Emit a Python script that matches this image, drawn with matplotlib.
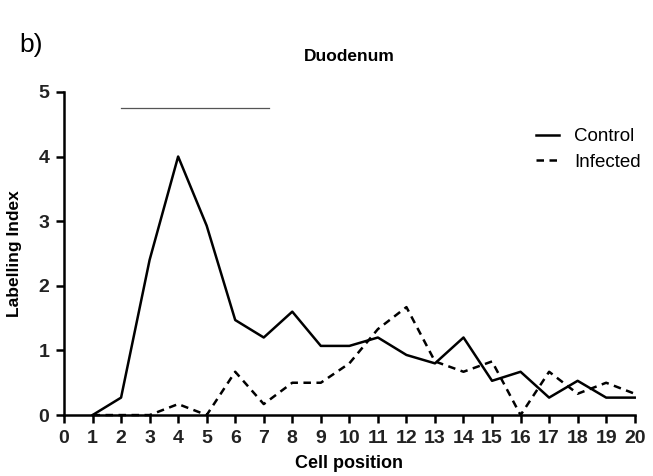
import matplotlib
matplotlib.use("Agg")
import matplotlib.pyplot as plt

plt.rcParams["font.family"] = ["Liberation Sans", "DejaVu Sans"]

# labelling index per cell position
positions = list(range(1, 21))
control = [0, 0.27, 2.4, 4.0, 2.93, 1.47, 1.2, 1.6, 1.07, 1.07,
           1.2, 0.93, 0.8, 1.2, 0.53, 0.67, 0.27, 0.53, 0.27, 0.27]
infected = [0, 0, 0, 0.17, 0, 0.67, 0.17, 0.5, 0.5, 0.8,
            1.33, 1.67, 0.83, 0.67, 0.83, 0, 0.67, 0.33, 0.5, 0.33]
bar_x = [2, 7.2]
bar_y = 4.75

fig = plt.figure(figsize=(6.53, 4.76), dpi=100)
ax = fig.add_axes([0.098, 0.128, 0.874, 0.679])

ax.plot(positions, control, "-", color="black", lw=1.8, label="Control", clip_on=False)
ax.plot(positions, infected, color="black", lw=1.8, ls=(0, (3, 2.2)), label="Infected", clip_on=False)
ax.plot(bar_x, [bar_y, bar_y], color="#555555", lw=0.9)

ax.set_xlim(0, 20)
ax.set_ylim(0, 5)
ax.set_xticks(range(0, 21))
ax.set_yticks(range(0, 6))
for s in ("top", "right"):
    ax.spines[s].set_visible(False)
for s in ("left", "bottom"):
    ax.spines[s].set_linewidth(1.8)
ax.tick_params(direction="out", width=1.8, length=5.5, labelsize=14, pad=5)
for lbl in ax.get_xticklabels() + ax.get_yticklabels():
    lbl.set_fontweight("bold")
    lbl.set_color("#222222")

ax.set_xlabel("Cell position", fontsize=13, fontweight="bold", labelpad=6)
ax.set_ylabel("Labelling Index", fontsize=12.5, fontweight="bold", labelpad=12)
ax.set_title("Duodenum", fontsize=12.5, fontweight="bold", pad=22)

ax.legend(loc="upper right", bbox_to_anchor=(1.04, 0.94), frameon=False,
          fontsize=13.5, handlelength=1.25, handletextpad=0.8, labelspacing=0.45)

fig.text(0.03, 0.905, "b)", fontsize=19, ha="left", va="center")

fig.savefig("out.png", dpi=100)
